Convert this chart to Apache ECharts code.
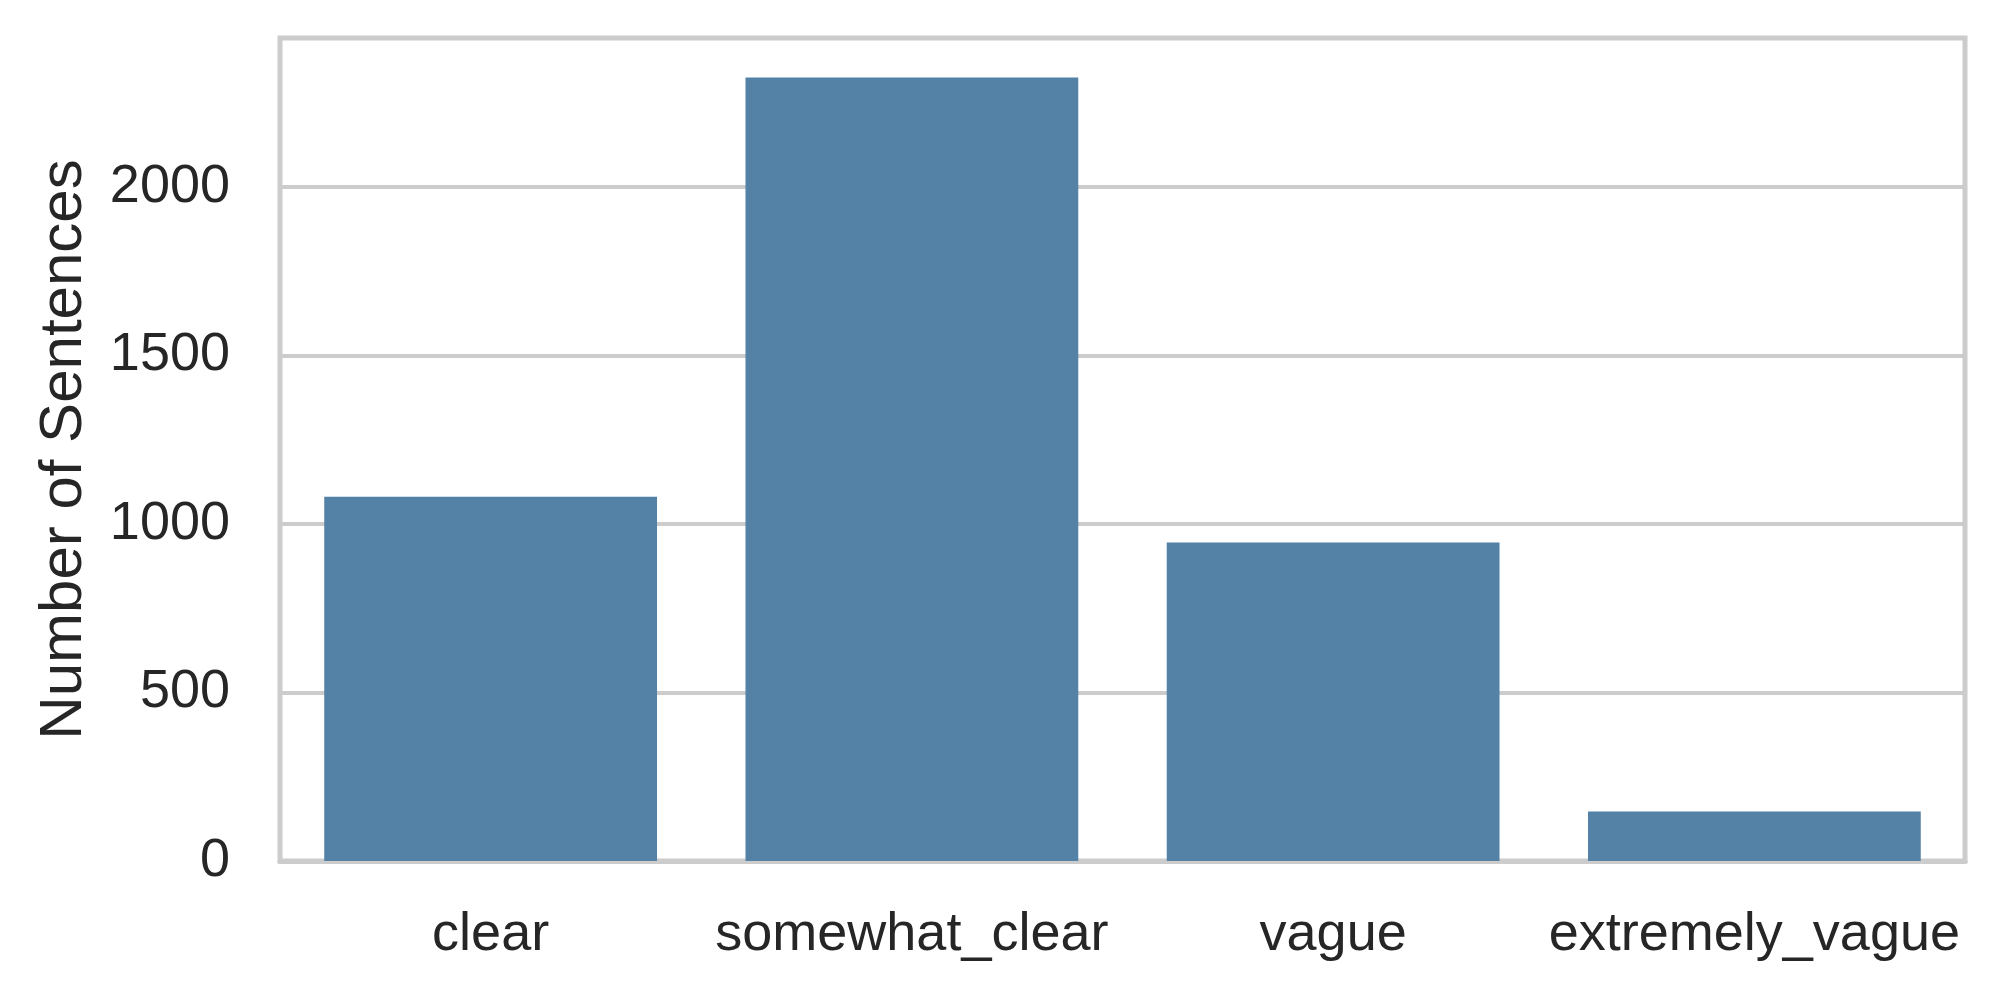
<!DOCTYPE html>
<html>
<head>
<meta charset="utf-8">
<script src="https://cdn.jsdelivr.net/npm/echarts@6/dist/echarts.min.js"></script>
<style>
html,body{margin:0;padding:0;background:#fff;}
#chart{width:1997px;height:990px;}
</style>
</head>
<body>
<div id="chart"></div>
<script>
const categories = ['clear', 'somewhat_clear', 'vague', 'extremely_vague'];
const counts = [1081, 2325, 945, 147];
const yTicks = [0, 500, 1000, 1500, 2000];
const yLabel = 'Number of Sentences';

const chart = echarts.init(document.getElementById('chart'));
chart.setOption({
  animation: false,
  backgroundColor: '#ffffff',
  grid: {
    left: 280, right: 32, top: 38, bottom: 129,
    show: true, borderColor: '#cccccc', borderWidth: 5, backgroundColor: 'transparent'
  },
  xAxis: {
    type: 'category',
    data: categories,
    axisLine: { show: true, lineStyle: { color: '#cccccc', width: 5 } },
    axisTick: { show: false },
    splitLine: { show: false },
    axisLabel: { color: '#262626', fontSize: 54, fontFamily: 'Liberation Sans, Arial, sans-serif', margin: 47, interval: 0 }
  },
  yAxis: {
    type: 'value',
    min: 0, max: 2442, interval: 500,
    name: yLabel,
    nameLocation: 'middle',
    nameGap: 186,
    nameTextStyle: { color: '#262626', fontSize: 60, fontFamily: 'Liberation Sans, Arial, sans-serif' },
    axisLine: { show: false },
    axisTick: { show: false },
    splitLine: { show: true, lineStyle: { color: '#cccccc', width: 4 } },
    axisLabel: {
      color: '#262626', fontSize: 54, fontFamily: 'Liberation Sans, Arial, sans-serif', margin: 50,
      showMaxLabel: false,
      formatter: function (v) { return yTicks.indexOf(v) >= 0 ? String(v) : ''; }
    }
  },
  series: [{
    type: 'bar',
    data: counts,
    barCategoryGap: '21%',
    itemStyle: { color: '#5482a7' }
  }]
});
</script>
</body>
</html>
